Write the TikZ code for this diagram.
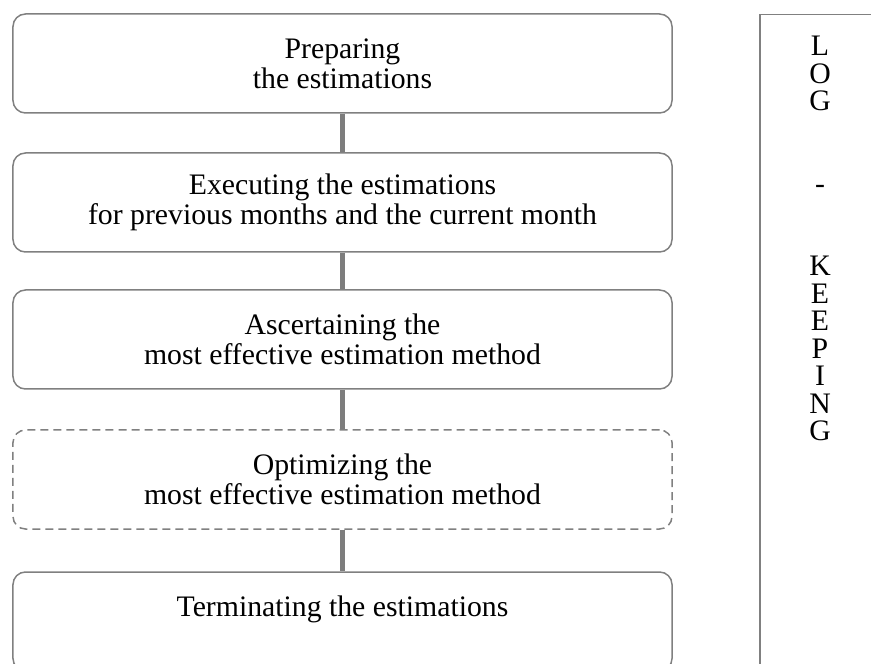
\documentclass[tikz,border=0pt]{standalone}
\usepackage{fontspec}
\setmainfont{Liberation Serif}
\usepackage{tikz}
\usetikzlibrary{positioning}
\definecolor{lnGrey}  {RGB}{128,128,128}
\definecolor{lnGreyD} {RGB}{125,125,125}

\begin{document}
\begin{tikzpicture}[
  x=0.4pt,y=-0.4pt,
  every node/.style={font=\fontsize{11.9}{12}\selectfont},
  stage/.style={draw=lnGrey,line width=0.6pt,rounded corners=5pt,
                minimum width=263.6pt,minimum height=39.6pt,
                inner sep=0pt,align=center},
  optional/.style={stage,dash pattern=on 3.2pt off 2pt},
  link/.style={draw=lnGreyD,line width=2pt}
]
\path[use as bounding box,clip] (0,0) rectangle (871,664);

% process stages
\node[stage] (prep) at (342.5,63.5)
   {Preparing\\the estimations};
\node[stage] (exec) at (342.5,202.5)
   {Executing the estimations\\for previous months and the current month};
\node[stage] (best) at (342.5,339.5)
   {Ascertaining the\\most effective estimation method};
\node[optional] (opti) at (342.5,479.5)
   {Optimizing the\\most effective estimation method};
\node[stage] (term) at (342.5,621.5)
   {Terminating the estimations\\\mbox{}};

\draw[link] (prep.south) -- (exec.north);
\draw[link] (exec.south) -- (best.north);
\draw[link] (best.south) -- (opti.north);
\draw[link] (opti.south) -- (term.north);

% log keeping column
\node[draw=lnGrey,line width=0.6pt,anchor=north west,inner sep=0pt,
      minimum width=48.8pt,minimum height=280pt] (logframe) at (759,14) {};
\node[anchor=north,inner sep=0pt,align=center,
      font=\fontsize{11.9}{11}\selectfont] (logtext) at (820,36)
   {L\\O\\G\\[22pt]-\\[22pt]K\\E\\E\\P\\I\\N\\G};
\end{tikzpicture}
\end{document}
